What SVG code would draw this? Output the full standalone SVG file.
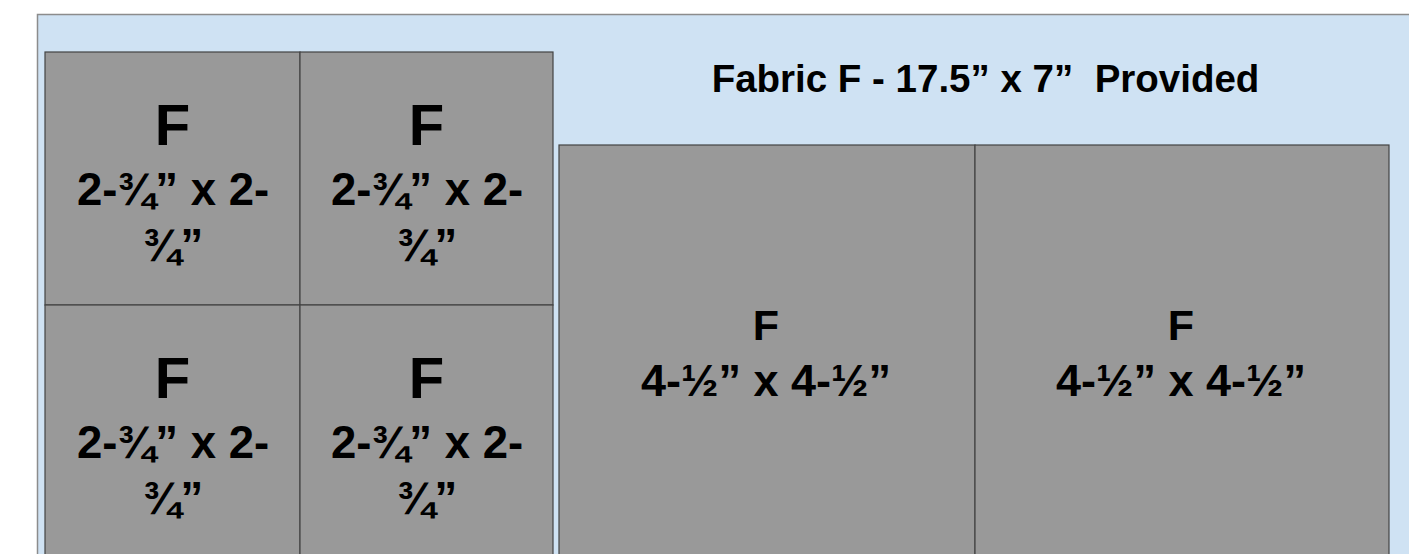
<svg xmlns="http://www.w3.org/2000/svg" width="1409" height="554" viewBox="0 0 1409 554">
<style>
.bg{fill:#cfe2f3;stroke:#8c8c8c;stroke-width:1.5}
.piece{fill:#999999;stroke:#434343;stroke-width:1.2}
text{font-family:"Liberation Sans",Arial,sans-serif;font-weight:bold;fill:#000;text-anchor:middle}
.title{font-size:38.5px}
.fs{font-size:58px}
.ds{font-size:45.5px}
.fl{font-size:43px}
.dl{font-size:45px}
</style>
<rect class="bg" x="37.5" y="14.5" width="1400" height="560"/>
<text class="title" x="985.5" y="92">Fabric F - 17.5” x 7”&#160; Provided</text>
<g id="small1">
<rect class="piece" x="45" y="52" width="255" height="253"/>
<text class="fs" x="172.5" y="145">F</text>
<text class="ds" x="173" y="205">2-¾” x 2-</text>
<text class="ds" x="173" y="261">¾”</text>
</g>
<g id="small2">
<rect class="piece" x="300" y="52" width="253" height="253"/>
<text class="fs" x="426.5" y="145">F</text>
<text class="ds" x="427" y="205">2-¾” x 2-</text>
<text class="ds" x="427" y="261">¾”</text>
</g>
<g id="small3">
<rect class="piece" x="45" y="305" width="255" height="260"/>
<text class="fs" x="172.5" y="398">F</text>
<text class="ds" x="173" y="458">2-¾” x 2-</text>
<text class="ds" x="173" y="514">¾”</text>
</g>
<g id="small4">
<rect class="piece" x="300" y="305" width="253" height="260"/>
<text class="fs" x="426.5" y="398">F</text>
<text class="ds" x="427" y="458">2-¾” x 2-</text>
<text class="ds" x="427" y="514">¾”</text>
</g>
<g id="large1">
<rect class="piece" x="559" y="145" width="416" height="420"/>
<text class="fl" x="766" y="340">F</text>
<text class="dl" x="766" y="396">4-½” x 4-½”</text>
</g>
<g id="large2">
<rect class="piece" x="975" y="145" width="414" height="420"/>
<text class="fl" x="1181" y="340">F</text>
<text class="dl" x="1181" y="396">4-½” x 4-½”</text>
</g>
<g id="connectors"></g>
</svg>
